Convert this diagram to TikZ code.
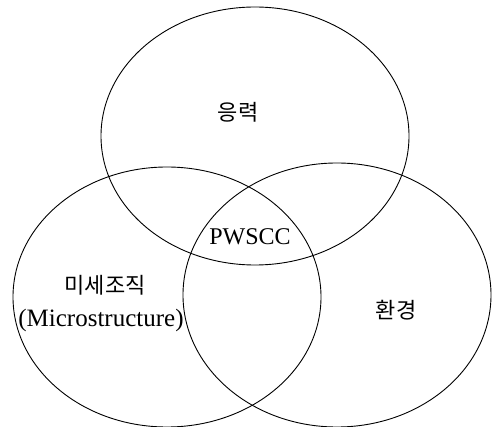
\documentclass[tikz,border=0pt]{standalone}
\usepackage{fontspec}
\setmainfont{Liberation Serif}
\newfontfamily\krfont{Noto Sans CJK KR}
\usetikzlibrary{shapes.geometric}
\begin{document}
\begin{tikzpicture}[x=1pt,y=-1pt,
  ring/.style={draw=black,line width=0.9pt,ellipse,inner sep=0pt,minimum width=308pt},
  krlabel/.style={font=\krfont\fontsize{22}{26}\selectfont,inner sep=0pt},
  enlabel/.style={font=\fontsize{25}{29}\selectfont,inner sep=0pt}]
\useasboundingbox (0,0) rectangle (493,427);
\node[ring,minimum height=258pt] (stress) at (255,136) {};
\node[ring,minimum height=260pt] (micro) at (167,297) {};
\node[ring,minimum height=264pt] (env) at (337,295) {};
\node[krlabel] (tStress) at (238,112) {응력};
\node[krlabel] (tMicro) at (105,285) {미세조직};
\node[enlabel] (tMicroEn) at (101,320) {(Microstructure)};
\node[krlabel] (tEnv) at (396,310) {환경};
\node[enlabel,font=\fontsize{24}{28}\selectfont] (tPwscc) at (250,237) {PWSCC};
\end{tikzpicture}
\end{document}
